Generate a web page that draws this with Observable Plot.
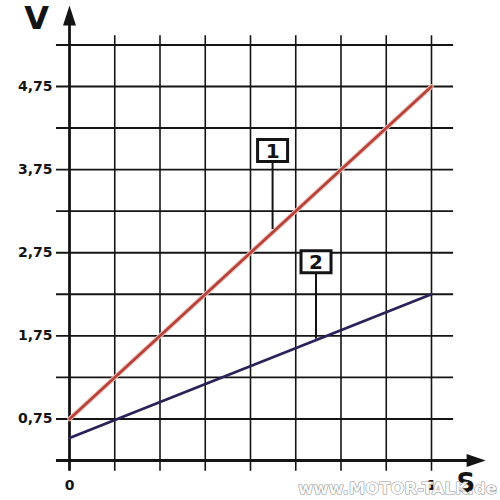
<!DOCTYPE html>
<html>
<head>
<meta charset="utf-8">
<script src="https://cdn.jsdelivr.net/npm/d3@7"></script>
<script src="https://cdn.jsdelivr.net/npm/@observablehq/plot@0.6"></script>
<style>
  html, body { margin: 0; padding: 0; background: #fff; }
  #chart svg { display: block; }
</style>
</head>
<body>
<div id="chart"></div>
<script>
// ---- data ----
const sValues = [0, 1];
const series1 = [0.75, 4.75];   // line 1 (red)
const series2 = [0.52, 2.25];   // line 2 (blue)

const xGrid = [0, 0.125, 0.25, 0.375, 0.5, 0.625, 0.75, 0.875, 1];
const yGrid = [0.25, 0.75, 1.25, 1.75, 2.25, 2.75, 3.25, 3.75, 4.25, 4.75, 5.25];

const yTicks = [0.75, 1.75, 2.75, 3.75, 4.75];
const yTickLabels = ["0,75", "1,75", "2,75", "3,75", "4,75"];
const xTicks = [0, 1];
const xTickLabels = ["0", "1"];

const calloutLabels = ["1", "2"];
const calloutS = [0.561, 0.681];
const calloutV = [3.98, 2.64];
const calloutTipV = [3.03, 1.71];

const yAxisTitle = "V";
const xAxisTitle = "S";
const watermark = "www.MOTOR-TALK.de";

// ---- styles ----
const ink = "#141414";
const red = "#b5423a";
const redHalo = "#efbcb4";
const blue = "#2a2258";
const font = "DejaVu Sans";

const boxSymbol = { draw(ctx) { ctx.rect(-15, -11, 30, 22); } };

const idx2 = [0, 1];
const callIdx = calloutLabels.map((_, i) => i);

const chart = Plot.plot({
  width: 500,
  height: 500,
  marginTop: 0, marginBottom: 0, marginLeft: 0, marginRight: 0,
  x: { domain: [0, 1], range: [69, 431], axis: null },
  y: { domain: [0.25, 4.75], range: [460, 86], axis: null },
  style: { fontFamily: font, background: "white", color: ink, overflow: "visible" },
  marks: [
    // vertical grid
    Plot.ruleX(xGrid.slice(1), { x: d => d, y1: 0.12, y2: 5.36, stroke: ink, strokeWidth: 1.6 }),
    // horizontal grid
    Plot.ruleY(yGrid.slice(1), { y: d => d, x1: -0.036, x2: 1.061, stroke: ink, strokeWidth: 1.9 }),
    // x axis
    Plot.ruleY([yGrid[0]], { y: d => d, x1: -0.036, x2: 1.1, stroke: ink, strokeWidth: 2.8 }),
    // y axis
    Plot.ruleX([xGrid[0]], { x: d => d, y1: 0.12, y2: 5.49, stroke: ink, strokeWidth: 2.8 }),
    // arrow heads
    Plot.vector([0], { x: xGrid[0], y: 5.485, length: 20, r: 6.5, shape: "spike", anchor: "start", rotate: 0, fill: ink, stroke: "none" }),
    Plot.vector([0], { x: 1.097, y: yGrid[0], length: 19, r: 6.5, shape: "spike", anchor: "start", rotate: 90, fill: ink, stroke: "none" }),
    // lines
    Plot.line(idx2, { x: i => sValues[i], y: i => series1[i], stroke: redHalo, strokeWidth: 4.6 }),
    Plot.line(idx2, { x: i => sValues[i], y: i => series1[i], stroke: red, strokeWidth: 2.6 }),
    Plot.line(idx2, { x: i => sValues[i], y: i => series2[i], stroke: blue, strokeWidth: 2.8 }),
    // callouts
    Plot.ruleX(callIdx, { x: i => calloutS[i], y1: i => calloutV[i], y2: i => calloutTipV[i], stroke: ink, strokeWidth: 2 }),
    Plot.dot(callIdx, { x: i => calloutS[i], y: i => calloutV[i], symbol: boxSymbol, r: 10, fill: "white", stroke: ink, strokeWidth: 3 }),
    Plot.text(callIdx, { x: i => calloutS[i], y: i => calloutV[i], text: i => calloutLabels[i], fontSize: 20, fontWeight: "bold", fill: ink, dy: 1 }),
    // tick labels
    Plot.text(yTicks, { x: 0, y: d => d, text: (d, i) => yTickLabels[i], dx: -17, textAnchor: "end", fontSize: 14, fontWeight: "bold", fill: ink }),
    Plot.text(xTicks, { x: d => d, y: yGrid[0], text: (d, i) => xTickLabels[i], dy: 25, fontSize: 14, fontWeight: "bold", fill: ink }),
    // axis titles
    Plot.text([yAxisTitle], { x: -0.091, y: 5.56, text: d => d, fontSize: 32, fontWeight: "bold", fill: ink }),
    Plot.text([xAxisTitle], { x: 1.095, y: -0.03, text: d => d, fontSize: 26, fontWeight: "bold", fill: ink }),
    // watermark
    Plot.text([watermark], { x: 0.906, y: -0.09, text: d => d, fontSize: 16.5, fontWeight: "bold", fill: "white", stroke: "#8d8d8d", strokeWidth: 1.1, fillOpacity: 0.85, strokeOpacity: 0.9 })
  ]
});
document.getElementById("chart").appendChild(chart);
</script>
</body>
</html>
